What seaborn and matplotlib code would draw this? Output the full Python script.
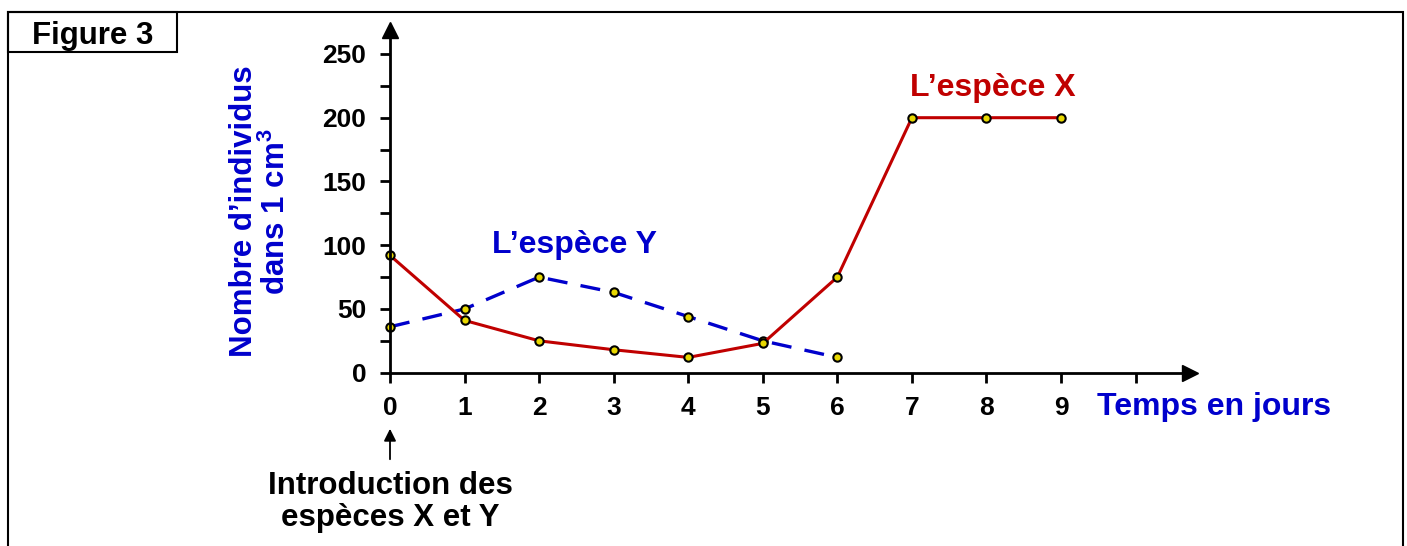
import pandas as pd
import matplotlib.pyplot as plt
import seaborn as sns
from matplotlib.patches import Rectangle
from matplotlib.ticker import MultipleLocator

jours_x = [0, 1, 2, 3, 4, 5, 6, 7, 8, 9]
espece_x = [92, 41, 25, 18, 12, 23, 75, 200, 200, 200]
jours_y = [0, 1, 2, 3, 4, 5, 6]
espece_y = [36, 50, 75, 63, 44, 25, 12]
y_ticks = [0, 50, 100, 150, 200, 250]
x_ticks = [0, 1, 2, 3, 4, 5, 6, 7, 8, 9]

RED = "#C00000"
BLUE = "#0000CC"
YELLOW = "#E8D800"

sns.set_style("white")
plt.rcParams["font.family"] = ["Liberation Sans", "DejaVu Sans"]
plt.rcParams["font.weight"] = "bold"
plt.rcParams["text.color"] = "black"
plt.rcParams["xtick.color"] = "black"
plt.rcParams["ytick.color"] = "black"
plt.rcParams["mathtext.fontset"] = "custom"
plt.rcParams["mathtext.rm"] = "Liberation Sans:bold"
plt.rcParams["mathtext.it"] = "Liberation Sans:bold"
plt.rcParams["mathtext.bf"] = "Liberation Sans:bold"

df_x = pd.DataFrame({"jour": jours_x, "n": espece_x})
df_y = pd.DataFrame({"jour": jours_y, "n": espece_y})

fig = plt.figure(figsize=(14.07, 5.46), dpi=100)
ax = fig.add_axes([390 / 1407, (546 - 372.7) / 546, 800 / 1407, 342.7 / 546])

marker_style = dict(marker="o", markersize=6, markerfacecolor=YELLOW,
                    markeredgecolor="black", markeredgewidth=1.5)
sns.lineplot(data=df_y, x="jour", y="n", ax=ax, color=BLUE, linewidth=2.4,
             linestyle=(0, (6, 4)), clip_on=False, **marker_style)
sns.lineplot(data=df_x, x="jour", y="n", ax=ax, color=RED, linewidth=2.2,
             clip_on=False, **marker_style)

ax.set_xlim(0, 800 / 74.56)
ax.set_ylim(0, 342.7 / 1.275)
ax.set_xlabel("")
ax.set_ylabel("")

# axes with arrows
for side in ["top", "right"]:
    ax.spines[side].set_visible(False)
for side in ["left", "bottom"]:
    ax.spines[side].set_linewidth(2)
    ax.spines[side].set_color("black")
ax.plot(1, 0, ">k", markersize=11, transform=ax.transAxes, clip_on=False)
ax.plot(0, 1, "^k", markersize=11, transform=ax.transAxes, clip_on=False)

ax.set_yticks(y_ticks)
ax.yaxis.set_minor_locator(MultipleLocator(25))
ax.set_xticks(x_ticks + [10])
ax.set_xticklabels([str(t) for t in x_ticks] + [""])
ax.tick_params(axis="both", which="both", direction="out", width=2,
               length=7, color="black", labelsize=19, labelcolor="black")
ax.tick_params(axis="y", pad=10)
ax.tick_params(axis="x", pad=10)
ax.tick_params(left=True, bottom=True, which="both")
ax.tick_params(axis="x", which="minor", bottom=False)

ax.text(-0.162, 0.47, "Nombre d\u2019individus\ndans 1 cm$^{3}$", transform=ax.transAxes,
        rotation=90, ha="center", va="center", color=BLUE, fontsize=22.5,
        fontweight="bold", linespacing=1.1)
ax.text(2.48, 100, "L\u2019esp\u00e8ce Y", color=BLUE, fontsize=23,
        fontweight="bold", ha="center", va="center")
ax.text(8.09, 223, "L\u2019esp\u00e8ce X", color=RED, fontsize=23,
        fontweight="bold", ha="center", va="center")

fig.text(1097 / 1407, 1 - 407 / 546, "Temps en jours", color=BLUE, fontsize=23,
         fontweight="bold", ha="left", va="center")
fig.text(390 / 1407, 1 - 502 / 546, "Introduction des\nesp\u00e8ces X et Y",
         color="black", fontsize=22.5, fontweight="bold", ha="center", va="center",
         linespacing=1.1)
fig.add_artist(plt.Annotation("", xy=(390 / 1407, 1 - 426 / 546),
                              xytext=(390 / 1407, 1 - 462 / 546),
                              xycoords="figure fraction",
                              arrowprops=dict(arrowstyle="-|>", color="black",
                                              lw=1.3, mutation_scale=18)))

# outer frame and "Figure 3" box
fig.add_artist(Rectangle((8 / 1407, -0.2), 1395 / 1407, 1.2 - 12 / 546,
                         transform=fig.transFigure, fill=False,
                         edgecolor="black", linewidth=1.5))
fig.add_artist(Rectangle((8 / 1407, 1 - 52 / 546), 169 / 1407, 40 / 546,
                         transform=fig.transFigure, fill=False,
                         edgecolor="black", linewidth=1.5))
fig.text(93 / 1407, 1 - 36 / 546, "Figure 3", fontsize=22.5, fontweight="bold",
         ha="center", va="center")

fig.savefig("out.png", dpi=100)
